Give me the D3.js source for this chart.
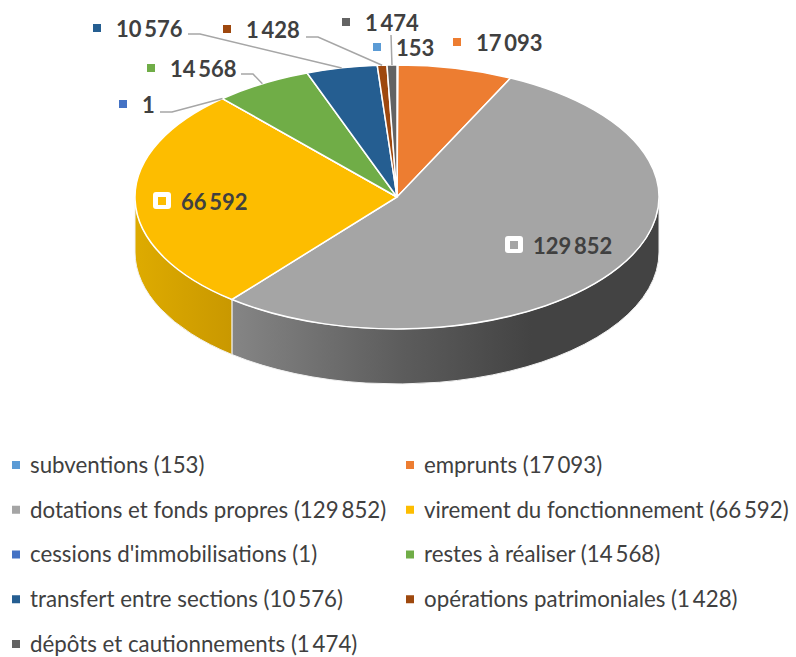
<!DOCTYPE html>
<html>
<head>
<meta charset="utf-8">
<script src="https://cdn.jsdelivr.net/npm/d3@7"></script>
<style>
  html, body { margin: 0; padding: 0; background: #fff; }
  svg { display: block; font-family: Lato, sans-serif; }
</style>
</head>
<body>
<div id="chart"></div>
<script>
// Slices, clockwise from 12 o'clock
const categories = ['subventions', 'emprunts', 'dotations et fonds propres', 'virement du fonctionnement',
    "cessions d'immobilisations", 'restes à réaliser', 'transfert entre sections',
    'opérations patrimoniales', 'dépôts et cautionnements'];
const values = [153, 17093, 129852, 66592, 1, 14568, 10576, 1428, 1474];
const colors = ['#5B9BD5', '#ED7D31', '#A5A5A5', '#FDBD00', '#4472C4', '#70AD47', '#255E91', '#9E480E', '#636363'];

// Data label layout, leader is [start x, elbow x, y]
const labelLayout = [
    { x: 396, y: 48 },
    { x: 476, y: 43 },
    { x: 533, y: 246, box: true },
    { x: 181, y: 202, box: true },
    { x: 142, y: 105, leader: [160, 172, 112] },
    { x: 170, y: 69, leader: [241, 253, 74] },
    { x: 116, y: 29, leader: [188, 200, 34] },
    { x: 246, y: 30, leader: [306, 318, 37] },
    { x: 365, y: 23, leader: [391, 391, 35] }
];

const width = 796, height = 657;
const cx = 397, cy = 197, rx = 262, ry = 132, depth = 55;

const fmt = d3.formatLocale({ decimal: ',', thousands: '\u2009', grouping: [3], currency: ['', ''] }).format(',d');

const svg = d3.select('#chart').append('svg')
    .attr('width', width)
    .attr('height', height);

const arcs = d3.pie().sort(null).value(d => d)(values);

// point on the tilted rim for a pie angle
const rim = t => [cx + rx * Math.sin(t), cy - ry * Math.cos(t)];

// Side wall gradients
const defs = svg.append('defs');
function addGradient(id, x1, x2, stops) {
    const g = defs.append('linearGradient')
        .attr('id', id)
        .attr('gradientUnits', 'userSpaceOnUse')
        .attr('x1', x1).attr('x2', x2).attr('y1', 0).attr('y2', 0);
    stops.forEach(s => g.append('stop').attr('offset', s[0]).attr('stop-color', s[1]));
}
addGradient('wall-grey', 232, 660, [[0, '#858585'], [0.4, '#5c5c5c'], [0.7, '#434343'], [1, '#434343']]);
addGradient('wall-yellow', 135, 232, [[0, '#deab00'], [1, '#c99800']]);

// Only the front half of the ellipse shows a wall
const walls = [{ i: 2, fill: 'url(#wall-grey)' }, { i: 3, fill: 'url(#wall-yellow)' }];
svg.append('g').selectAll('path')
    .data(walls)
    .enter()
    .append('path')
    .attr('fill', d => d.fill)
    .attr('stroke', '#f2f2f2')
    .attr('stroke-width', 1)
    .attr('d', d => {
        const a0 = Math.max(arcs[d.i].startAngle, Math.PI / 2);
        const a1 = Math.min(arcs[d.i].endAngle, Math.PI * 1.5);
        const p0 = rim(a0), p1 = rim(a1);
        return `M${p0[0]},${p0[1]}A${rx},${ry} 0 0 1 ${p1[0]},${p1[1]}` +
            `L${p1[0]},${p1[1] + depth}A${rx},${ry} 0 0 0 ${p0[0]},${p0[1] + depth}Z`;
    });

// Top face: circular arcs squashed into the ellipse
const arc = d3.arc().innerRadius(0).outerRadius(rx);
svg.append('g')
    .attr('transform', `translate(${cx},${cy}) scale(1,${ry / rx})`)
    .selectAll('path')
    .data(arcs)
    .enter()
    .append('path')
    .attr('d', arc)
    .attr('fill', (d, i) => colors[i])
    .attr('stroke', '#fff')
    .attr('stroke-width', 1.5)
    .attr('vector-effect', 'non-scaling-stroke');

// Leader lines
const leaderLine = d3.line();
svg.append('g').selectAll('path')
    .data(labelLayout.map((l, i) => ({ l, a: arcs[i] })).filter(d => d.l.leader))
    .enter()
    .append('path')
    .attr('fill', 'none')
    .attr('stroke', '#a6a6a6')
    .attr('stroke-width', 1.5)
    .attr('d', d => {
        const [x0, x1, y] = d.l.leader;
        return leaderLine([[x0, y], [x1, y], rim((d.a.startAngle + d.a.endAngle) / 2)]);
    });

// Data labels with their colour key
const labels = svg.append('g').selectAll('g')
    .data(labelLayout)
    .enter()
    .append('g');

labels.filter(d => d.box).append('rect')
    .attr('x', d => d.x - 28)
    .attr('y', d => d.y - 10)
    .attr('width', 18)
    .attr('height', 17)
    .attr('rx', 3)
    .attr('fill', '#fff');

labels.append('rect')
    .attr('x', d => d.x - 23)
    .attr('y', d => d.y - 5)
    .attr('width', 8)
    .attr('height', 8)
    .attr('fill', d => colors[labelLayout.indexOf(d)]);

labels.append('text')
    .attr('x', d => d.x)
    .attr('y', d => d.y)
    .attr('dy', '0.35em')
    .attr('fill', '#404040')
    .style('font-size', '22px')
    .style('font-weight', 700)
    .text(d => fmt(values[labelLayout.indexOf(d)]));

// Legend, two columns
const legendX = d3.scalePoint().domain([0, 1]).range([30, 424]);
const legendY = d3.scalePoint().domain(d3.range(5)).range([465, 644]);

const legend = svg.append('g').selectAll('g')
    .data(categories)
    .enter()
    .append('g')
    .attr('transform', (d, i) => `translate(${legendX(i % 2)},${legendY(Math.floor(i / 2))})`);

legend.append('rect')
    .attr('x', -18)
    .attr('y', -4)
    .attr('width', 8)
    .attr('height', 8)
    .attr('fill', (d, i) => colors[i]);

legend.append('text')
    .attr('dy', '0.35em')
    .attr('fill', '#404040')
    .style('font-size', '22.3px')
    .text((d, i) => `${d} (${fmt(values[i])})`);
</script>
</body>
</html>
